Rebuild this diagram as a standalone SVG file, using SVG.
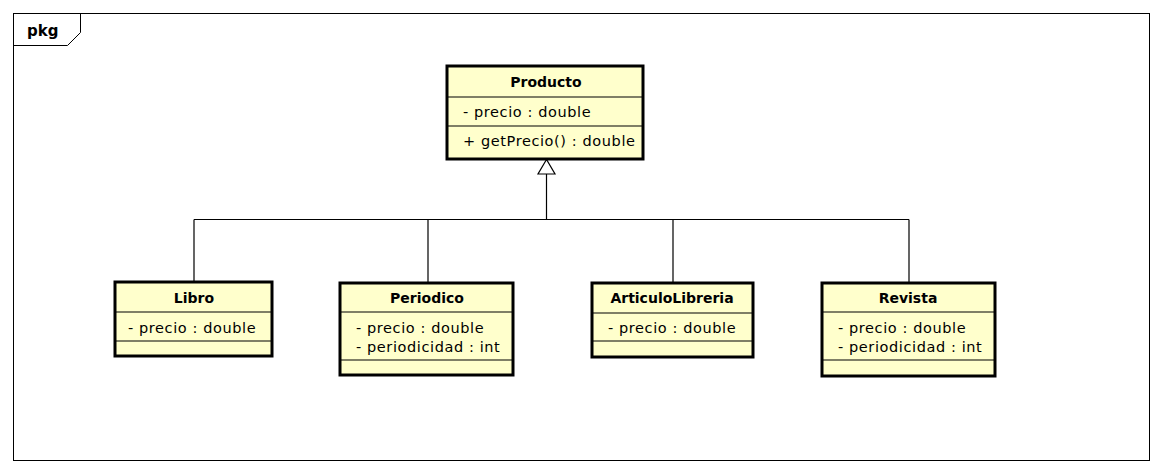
<svg xmlns="http://www.w3.org/2000/svg" width="1164" height="474" viewBox="0 0 1164 474">
<style>
.box{fill:#ffffcc;stroke:#000;stroke-width:3}
.div{stroke:#000;stroke-width:1.2}
.t{font-family:"DejaVu Sans",sans-serif;font-size:14.5px;fill:#000;letter-spacing:0.6px}
.h{font-family:"DejaVu Sans",sans-serif;font-size:14px;font-weight:bold;fill:#000;text-anchor:middle}
.c{stroke:#000;stroke-width:1.2;fill:none}
</style>
<rect x="0" y="0" width="1164" height="474" fill="#fff"/>
<g id="frame">
<rect x="13.5" y="13.5" width="1136" height="447" fill="none" stroke="#000" stroke-width="1"/>
<path d="M13.5 45.5 H67.5 L80.5 32.5 V13.5" fill="none" stroke="#000" stroke-width="1"/>
<text x="27" y="36" class="h" style="text-anchor:start;font-size:15px">pkg</text>
</g>
<g id="connectors">
<path class="c" d="M546.5 174 V219.5"/>
<path class="c" d="M194 219.5 H909"/>
<path class="c" d="M194 219.5 V282 M428 219.5 V283 M673 219.5 V283 M909 219.5 V283"/>
<polygon points="546.5,159.5 538,174 555,174" fill="#fff" stroke="#000" stroke-width="1.2"/>
</g>
<g id="Producto">
<rect class="box" x="447" y="66" width="196" height="93"/>
<line class="div" x1="447" y1="97" x2="643" y2="97"/>
<line class="div" x1="447" y1="126" x2="643" y2="126"/>
<text class="h" x="546" y="87">Producto</text>
<text class="t" x="463" y="117">- precio : double</text>
<text class="t" x="463" y="146">+ getPrecio() : double</text>
</g>
<g id="Libro">
<rect class="box" x="115" y="282" width="157" height="74"/>
<line class="div" x1="115" y1="312" x2="272" y2="312"/>
<line class="div" x1="115" y1="341" x2="272" y2="341"/>
<text class="h" x="194" y="303">Libro</text>
<text class="t" x="128" y="333">- precio : double</text>
</g>
<g id="Periodico">
<rect class="box" x="340" y="283" width="173" height="92"/>
<line class="div" x1="340" y1="312" x2="513" y2="312"/>
<line class="div" x1="340" y1="360" x2="513" y2="360"/>
<text class="h" x="427" y="303">Periodico</text>
<text class="t" x="356" y="333">- precio : double</text>
<text class="t" x="356" y="352">- periodicidad : int</text>
</g>
<g id="ArticuloLibreria">
<rect class="box" x="592" y="283" width="161" height="74"/>
<line class="div" x1="592" y1="313" x2="753" y2="313"/>
<line class="div" x1="592" y1="341" x2="753" y2="341"/>
<text class="h" x="672" y="303">ArticuloLibreria</text>
<text class="t" x="608" y="333">- precio : double</text>
</g>
<g id="Revista">
<rect class="box" x="822" y="283" width="173" height="93"/>
<line class="div" x1="822" y1="312" x2="995" y2="312"/>
<line class="div" x1="822" y1="360" x2="995" y2="360"/>
<text class="h" x="908" y="303">Revista</text>
<text class="t" x="838" y="333">- precio : double</text>
<text class="t" x="838" y="352">- periodicidad : int</text>
</g>
</svg>
